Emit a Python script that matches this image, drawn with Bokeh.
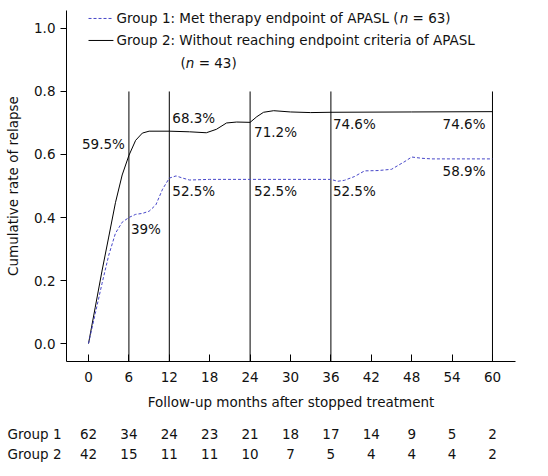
from bokeh.plotting import figure
from bokeh.models import Range1d, FixedTicker, Label, NumeralTickFormatter
from bokeh.embed import file_html
from bokeh.resources import INLINE

FONT = "DejaVu Sans"
TXT = "#111111"
FS = "13.5px"

# Group 1 (met endpoint) cumulative relapse curve
g1_months = [0, 1, 2, 3, 4, 5, 6, 7, 8, 9, 10, 11, 12, 13, 14, 15, 18, 24, 30, 36,
             37, 38, 39.5, 41, 43, 45, 47, 48, 49.5, 51, 54, 60]
g1_rate = [0, 0.095, 0.19, 0.28, 0.35, 0.385, 0.40, 0.41, 0.413, 0.42, 0.44, 0.49,
           0.525, 0.532, 0.525, 0.519, 0.521, 0.521, 0.521, 0.521,
           0.515, 0.518, 0.53, 0.548, 0.549, 0.553, 0.578, 0.592, 0.588, 0.586, 0.586, 0.586]

# Group 2 (without endpoint) cumulative relapse curve
g2_months = [0, 1, 2, 3, 4, 5, 6, 7, 8, 9, 12, 15, 17.5, 19, 20.5, 22, 24, 25, 26,
             27.5, 30, 33, 36, 48, 60]
g2_rate = [0, 0.115, 0.23, 0.338, 0.447, 0.535, 0.597, 0.645, 0.668, 0.674, 0.674, 0.672,
           0.669, 0.68, 0.70, 0.703, 0.702, 0.72, 0.734, 0.739, 0.735, 0.733, 0.734,
           0.735, 0.736]

# checkpoints with reported percentages
check_months = [6, 12, 24, 36, 60]
g1_pct = [39, 52.5, 52.5, 52.5, 58.9]
g2_pct = [59.5, 68.3, 71.2, 74.6, 74.6]
g1_pct_txt = ["39%", "52.5%", "52.5%", "52.5%", "58.9%"]
g2_pct_txt = ["59.5%", "68.3%", "71.2%", "74.6%", "74.6%"]

x_ticks = [0, 6, 12, 18, 24, 30, 36, 42, 48, 54, 60]
y_ticks = [0.0, 0.2, 0.4, 0.6, 0.8, 1.0]
risk_g1 = [62, 34, 24, 23, 21, 18, 17, 14, 9, 5, 2]
risk_g2 = [42, 15, 11, 11, 10, 7, 5, 4, 4, 4, 2]
row_names = ["Group 1", "Group 2"]

# ---- layout helpers (pixels -> data) ----
PXX = 6.7333   # px per month
PXY = 315.0    # px per unit rate
W = 548
H1 = 418
H2 = 58

p = figure(width=W, height=H1, output_backend="svg", toolbar_location=None,
           x_range=Range1d(-3.27, 63.42), y_range=Range1d(-0.057, 1.057),
           min_border_left=66, min_border_right=33, min_border_top=10,
           min_border_bottom=H1 - 361)
p.outline_line_color = None
p.xgrid.visible = False
p.ygrid.visible = False
p.background_fill_color = "white"
p.border_fill_color = "white"

# axes
xa = p.xaxis[0]
xa.ticker = FixedTicker(ticks=x_ticks)
xa.major_tick_in = 7
xa.major_tick_out = 0
xa.minor_tick_line_color = None
xa.axis_line_color = "black"
xa.major_tick_line_color = "black"
xa.major_label_standoff = 10
xa.axis_label = "Follow-up months after stopped treatment"
xa.axis_label_standoff = 9
ya = p.yaxis[0]
ya.ticker = FixedTicker(ticks=y_ticks)
ya.formatter = NumeralTickFormatter(format="0.0")
ya.major_tick_in = 0
ya.major_tick_out = 6
ya.minor_tick_line_color = None
ya.axis_line_color = "black"
ya.major_tick_line_color = "black"
ya.major_label_standoff = 5
ya.axis_label = "Cumulative rate of relapse"
ya.axis_label_standoff = 10
for ax in (xa, ya):
    ax.major_label_text_font = FONT
    ax.major_label_text_font_size = FS
    ax.major_label_text_color = TXT
    ax.axis_label_text_font = FONT
    ax.axis_label_text_font_size = FS
    ax.axis_label_text_font_style = "normal"
    ax.axis_label_text_color = TXT

# vertical reference lines at checkpoints
p.segment(x0=check_months, x1=check_months, y0=[-0.057] * len(check_months),
          y1=[0.8] * len(check_months), line_color="black", line_width=1)

# curves
p.line(g2_months, g2_rate, line_color="black", line_width=1)
p.line(g1_months, g1_rate, line_color="#4646c8", line_width=1, line_dash="3 2")

# percentage labels
g2_off = [(-4, 12, "right"), (3, 10, "left"), (4, -13, "left"), (2, -16, "left"), (-7, -16, "right")]
g1_off = [(2, -8, "left"), (3, -13, "left"), (4, -13, "left"), (2, -13, "left"), (-7, -13, "right")]
for m, pc, tx, (dx, dy, al) in zip(check_months, g2_pct, g2_pct_txt, g2_off):
    p.add_layout(Label(x=m + dx / PXX, y=pc / 100 + dy / PXY, text=tx, text_align=al,
                       text_baseline="middle", text_font=FONT, text_font_size=FS,
                       text_color=TXT))
for m, pc, tx, (dx, dy, al) in zip(check_months, g1_pct, g1_pct_txt, g1_off):
    p.add_layout(Label(x=m + dx / PXX, y=pc / 100 + dy / PXY, text=tx, text_align=al,
                       text_baseline="middle", text_font=FONT, text_font_size=FS,
                       text_color=TXT))

# legend
ly1 = (343 - 18) / PXY
ly2 = (343 - 40) / PXY
ly3 = (343 - 63) / PXY
p.line([0, 3.7], [ly1, ly1], line_color="#4646c8", line_width=1, line_dash="3 2")
p.line([0, 3.7], [ly2, ly2], line_color="black", line_width=1)


def lab(fig, x, y, t, style="normal", align="left"):
    fig.add_layout(Label(x=x, y=y, text=t, text_align=align, text_baseline="middle",
                         text_font=FONT, text_font_size=FS, text_color=TXT,
                         text_font_style=style))


SP = 4.3 / PXX  # width of a space, in months
lab(p, 4.16, ly1, "Group 1: Met therapy endpoint of APASL (")
lab(p, 46.22, ly1, "n", "italic")
lab(p, 47.49 + SP, ly1, "= 63)")
lab(p, 4.16, ly2, "Group 2: Without reaching endpoint criteria of APASL")
lab(p, 13.66, ly3, "(")
lab(p, 14.45, ly3, "n", "italic")
lab(p, 15.72 + SP, ly3, "= 43)")

# number-at-risk table (separate root, same month scale, full-width frame)
t = figure(width=W, height=H2, output_backend="svg", toolbar_location=None,
           x_range=Range1d(-88 / PXX, (W - 88) / PXX), y_range=Range1d(H2, 0),
           x_axis_location=None, y_axis_location=None,
           min_border_left=0, min_border_right=0, min_border_top=0,
           min_border_bottom=0)
t.grid.visible = False
t.outline_line_color = None
t.background_fill_color = "white"
t.border_fill_color = "white"
for row_y, name, vals in ((433 - H1, row_names[0], risk_g1),
                          (453 - H1, row_names[1], risk_g2)):
    lab(t, (7 - 88) / PXX, row_y, name)
    for m, v in zip(x_ticks, vals):
        lab(t, m, row_y, str(v), align="center")

open("out.html", "w").write(file_html([p, t], INLINE))
